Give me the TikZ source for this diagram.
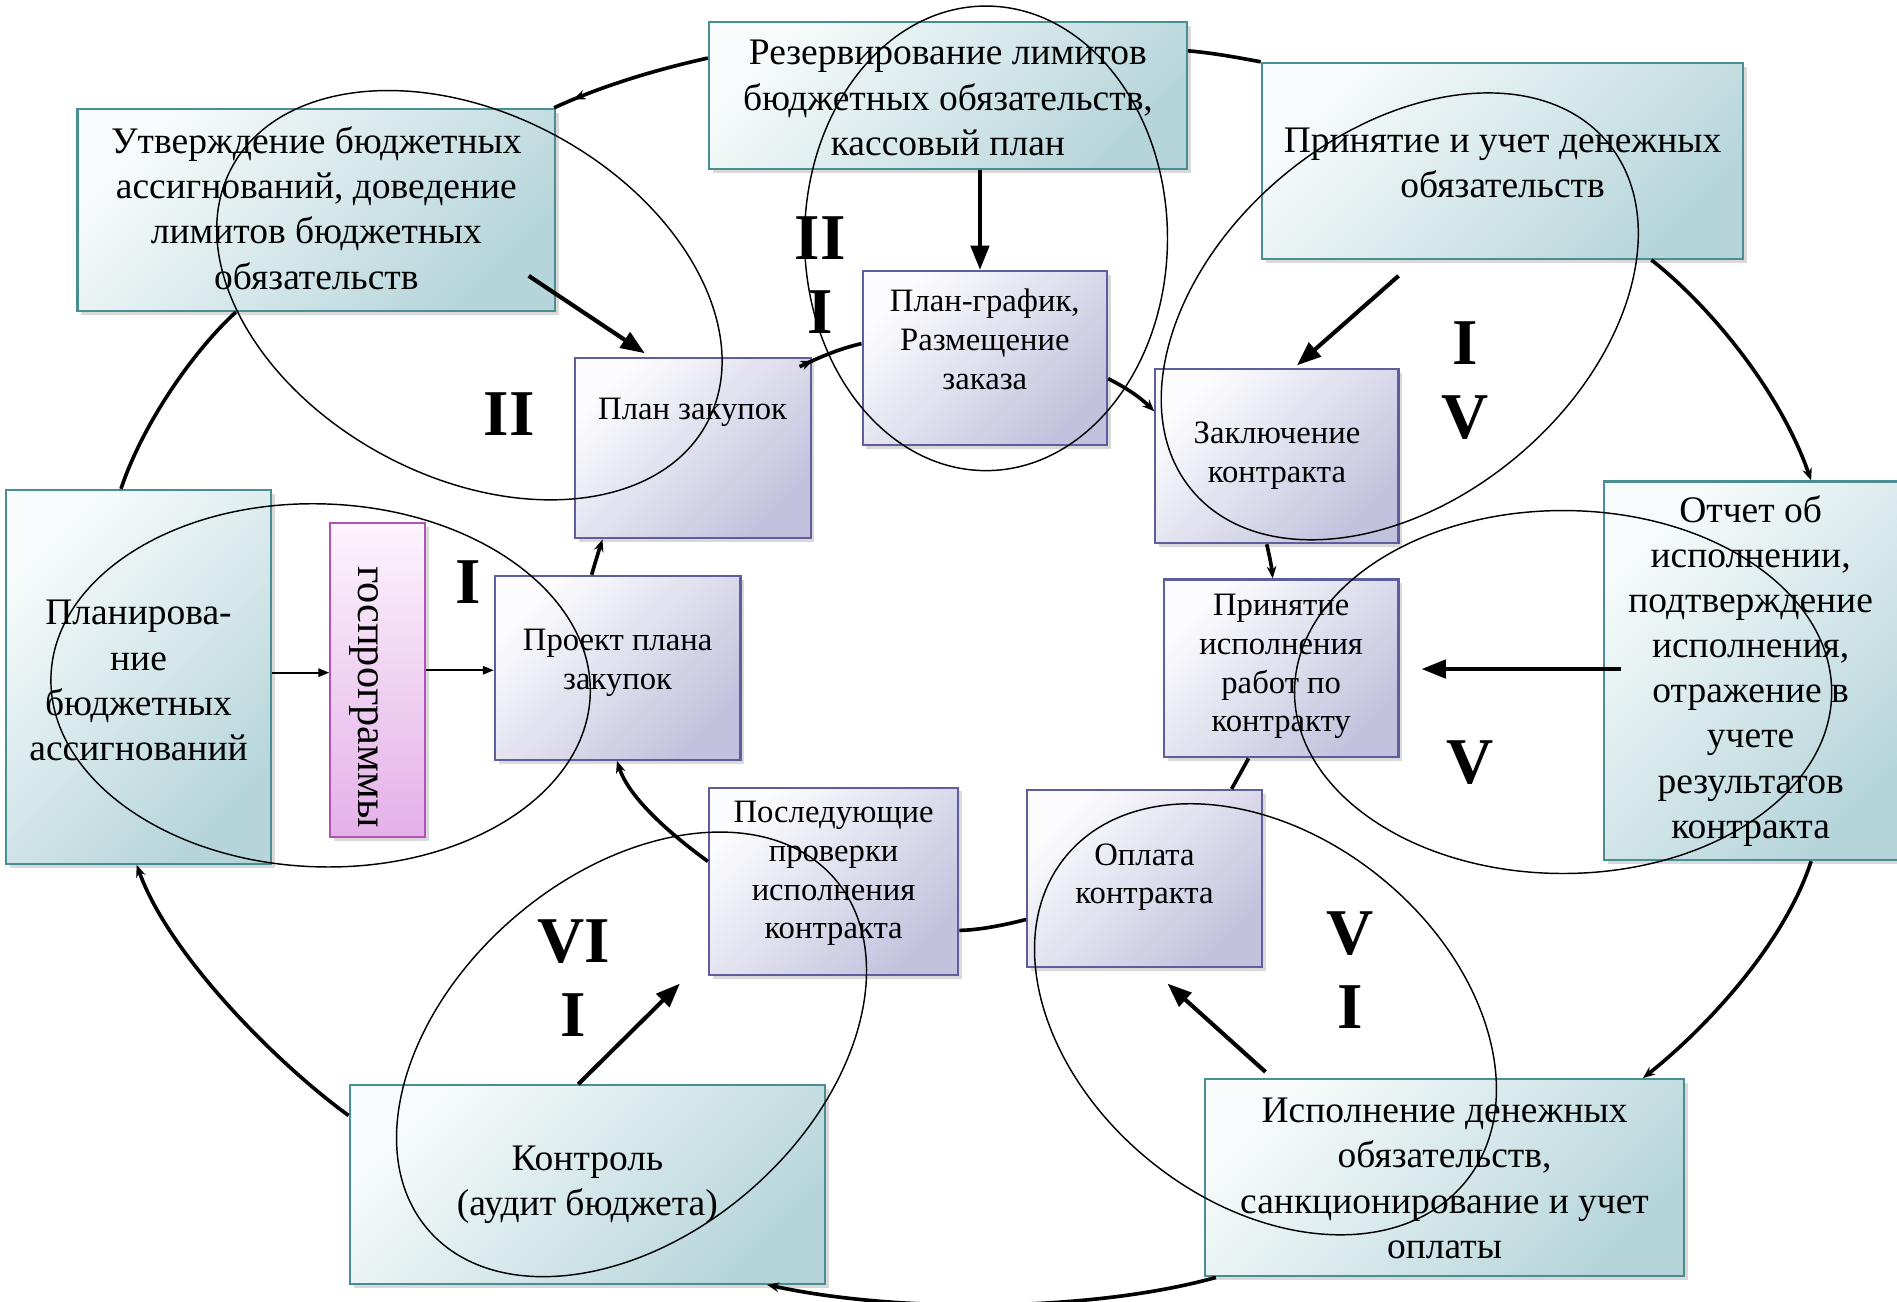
\documentclass[tikz,border=0pt]{standalone}
\usepackage{fontspec}
\setmainfont{Liberation Serif}
\usetikzlibrary{arrows.meta,shadows,fit,decorations.markings}
\definecolor{tealB}{RGB}{74,142,148}
\definecolor{tealL}{RGB}{247,251,251}
\definecolor{tealD}{RGB}{182,213,218}
\definecolor{purB}{RGB}{94,94,158}
\definecolor{purL}{RGB}{252,252,254}
\definecolor{purD}{RGB}{194,194,222}
\definecolor{pinkB}{RGB}{178,82,184}
\definecolor{pinkL}{RGB}{252,244,252}
\definecolor{pinkD}{RGB}{228,176,232}
\tikzset{
  boxshadow/.style={drop shadow={shadow xshift=1.6pt, shadow yshift=-1.6pt, opacity=0.3, fill=black!50}},
  tealbox/.style={boxshadow, draw=tealB, line width=0.9pt, inner sep=0pt, top color=tealL, bottom color=tealD, shading angle=45},
  purbox/.style={boxshadow, draw=purB, line width=0.9pt, inner sep=0pt, top color=purL, bottom color=purD, shading angle=45},
  pinkbox/.style={boxshadow, draw=pinkB, line width=0.9pt, inner sep=0pt, top color=pinkL, bottom color=pinkD},
  ttext/.style={align=center, inner sep=0pt, font=\fontsize{15.5}{18.65}\selectfont},
  ptext/.style={align=center, inner sep=0pt, font=\fontsize{13.5}{16}\selectfont},
  roman/.style={align=center, inner sep=0pt, font=\fontsize{27}{30.5}\selectfont\bfseries},
  conn/.style={line width=1.5pt},
  bigarrow/.style={line width=1.7pt, -{Triangle[length=10pt,width=7.5pt]}},
  thinarrow/.style={line width=0.7pt, -{Triangle[length=4.5pt,width=3.5pt]}},
  smallhead/.style={-{Stealth[length=5pt,width=4pt]}},
  midhead/.style={postaction={decorate}, decoration={markings, mark=at position #1 with {\arrow{Stealth[length=5pt,width=4pt]}}}},
  oval/.style={line width=0.6pt},
}
\begin{document}
\begin{tikzpicture}[x=0.5pt,y=-0.5pt]
\useasboundingbox (0,0) rectangle (1568,1075.4);
\clip (0,0) rectangle (1568,1075.4);
% teal boxes
\node[tealbox, fit={(586,18) (981,140)}] (res) {};
\node[tealbox, fit={(64,90) (459,257)}] (utv) {};
\node[tealbox, fit={(1043,52) (1441,214)}] (prin) {};
\node[tealbox, fit={(5,405) (224,714)}] (plan) {};
\node[tealbox, fit={(1326,398) (1574,711)}] (otch) {};
\node[tealbox, fit={(289,897) (682,1061)}] (kontr) {};
\node[tealbox, fit={(996,892) (1392,1055)}] (isp) {};
% purple boxes
\node[purbox, fit={(475,296) (670,445)}] (pz) {};
\node[purbox, fit={(713,224) (915,368)}] (pg) {};
\node[purbox, fit={(955,305) (1156,449)}] (zk) {};
\node[purbox, fit={(409,476) (612,628)}] (pr) {};
\node[purbox, fit={(962,479) (1156,626)}] (pi) {};
\node[purbox, fit={(586,651) (792,806)}] (pp) {};
\node[purbox, fit={(849,653) (1043,799)}] (op) {};
% pink box
\node[pinkbox, fit={(273,432) (351,692)}] (gp) {};
% texts
\node[ttext] (res-t) at (783.5,81) {Резервирование лимитов\\бюджетных обязательств,\\кассовый план};
\node[ttext] (utv-t) at (261.5,172) {Утверждение бюджетных\\ассигнований, доведение\\лимитов бюджетных\\обязательств};
\node[ttext] (prin-t) at (1242,134.5) {Принятие и учет денежных\\обязательств};
\node[ttext] (plan-t) at (114.5,562.5) {Планирова-\\ние\\бюджетных\\ассигнований};
\node[ttext] (otch-t) at (1447,554.5) {Отчет об\\исполнении,\\подтверждение\\исполнения,\\отражение в\\учете\\результатов\\контракта};
\node[ttext] (kontr-t) at (485.5,979.5) {Контроль\\(аудит бюджета)};
\node[ttext] (isp-t) at (1194,974) {Исполнение денежных\\обязательств,\\санкционирование и учет\\оплаты};
\node[ptext] (pz-t) at (572.5,341) {План закупок};
\node[ptext] (pg-t) at (814,280.5) {План-график,\\Размещение\\заказа};
\node[ptext] (zk-t) at (1055.5,376.5) {Заключение\\контракта};
\node[ptext] (pr-t) at (510.5,548) {Проект плана\\закупок};
\node[ptext] (pi-t) at (1059,551) {Принятие\\исполнения\\работ по\\контракту};
\node[ptext] (pp-t) at (689,722) {Последующие\\проверки\\исполнения\\контракта};
\node[ptext] (op-t) at (946,725) {Оплата\\контракта};
\node[inner sep=0pt, rotate=-90, font=\fontsize{17.5}{20}\selectfont] (gp-t) at (301,576) {госпрограммы};
% outer cycle connectors
\draw[conn, midhead=0.87] (res.west |- 0,48) .. controls (540,58) and (495,72) .. (utv.north -| 458,0);
\draw[conn] (res.east |- 0,42) .. controls (1005,44) and (1025,48) .. (prin.north west);
\draw[conn, smallhead] (prin.south -| 1365,0) .. controls (1410,250) and (1470,320) .. (otch.north -| 1497,0);
\draw[conn, smallhead] (otch.south -| 1497,0) .. controls (1475,780) and (1410,850) .. (isp.north -| 1358,0);
\draw[conn, smallhead] (isp.south -| 1005,0) .. controls (900,1085) and (740,1085) .. (kontr.south -| 634,0);
\draw[conn, smallhead] (kontr.west |- 0,922) .. controls (230,880) and (140,790) .. (plan.south -| 113,0);
\draw[conn] (plan.north -| 100,0) .. controls (118,350) and (160,290) .. (utv.south -| 195,0);
% inner cycle connectors
\draw[conn, smallhead] (pr.north -| 489,0) .. controls (492,465) and (495,455) .. (pz.south -| 498,0);
\draw[conn, midhead=0.22] ([xshift=-5pt,yshift=-4pt]pz.north east) .. controls (680,294) and (695,288) .. (pg.west |- 0,284);
\draw[conn, smallhead] (pg.east |- 0,313) .. controls (930,320) and (942,328) .. (zk.west |- 0,340);
\draw[conn, smallhead] (zk.south -| 1047,0) .. controls (1049,458) and (1051,468) .. (pi.north -| 1052,0);
\draw[conn] (pi.south -| 1032,0) -- (op.north -| 1018,0);
\draw[conn] (op.west |- 0,760) .. controls (825,766) and (805,769) .. (pp.east |- 0,769);
\draw[conn, smallhead] (pp.west |- 0,712) .. controls (555,690) and (520,660) .. (pr.south -| 510,0);
% straight arrows
\coordinate (a2s) at (437,228);
\coordinate (a2e) at (533,292);
\coordinate (a3s) at (1156,228);
\coordinate (a3e) at (1072,302);
\coordinate (a4s) at (1340,553);
\coordinate (a4e) at (1175,553);
\coordinate (a5s) at (1046,886);
\coordinate (a5e) at (965,813);
\coordinate (a6e) at (562,813);
\draw[bigarrow] (res.south -| 810,0) -- (pg.north -| 810,0);
\draw[bigarrow] (a2s) -- (a2e);
\draw[bigarrow] (a3s) -- (a3e);
\draw[bigarrow] (a4s) -- (a4e);
\draw[bigarrow] (a5s) -- (a5e);
\draw[bigarrow] (kontr.north -| 478,0) -- (a6e);
\draw[thinarrow] (plan.east |- 0,556) -- (gp.west |- 0,556);
\draw[thinarrow] (gp.east |- 0,554) -- (pr.west |- 0,554);
% ellipses
\draw[oval, rotate around={-28.3:(388,244)}] (388,244) ellipse [x radius=223, y radius=150];
\draw[oval] (815,197) ellipse [x radius=150, y radius=192];
\draw[oval, rotate around={40:(1157,261.5)}] (1157,261.5) ellipse [x radius=224, y radius=151];
\draw[oval, rotate around={-2:(265,566.5)}] (265,566.5) ellipse [x radius=223, y radius=150];
\draw[oval] (1292,572) ellipse [x radius=222, y radius=150];
\draw[oval, rotate around={-39:(1046,842.5)}] (1046,842.5) ellipse [x radius=213, y radius=151];
\draw[oval, rotate around={40.8:(522,871.5)}] (522,871.5) ellipse [x radius=222, y radius=149];
% roman numerals
\node[roman] (r1) at (421,342) {II};
\node[roman] (r2) at (678,227.5) {II\\I};
\node[roman] (r3) at (1211,314.5) {I\\V};
\node[roman] (r4) at (387,481) {I};
\node[roman] (r5) at (1215,630) {V};
\node[roman] (r6) at (474,808.5) {VI\\I};
\node[roman] (r7) at (1116,802) {V\\I};
\end{tikzpicture}
\end{document}
